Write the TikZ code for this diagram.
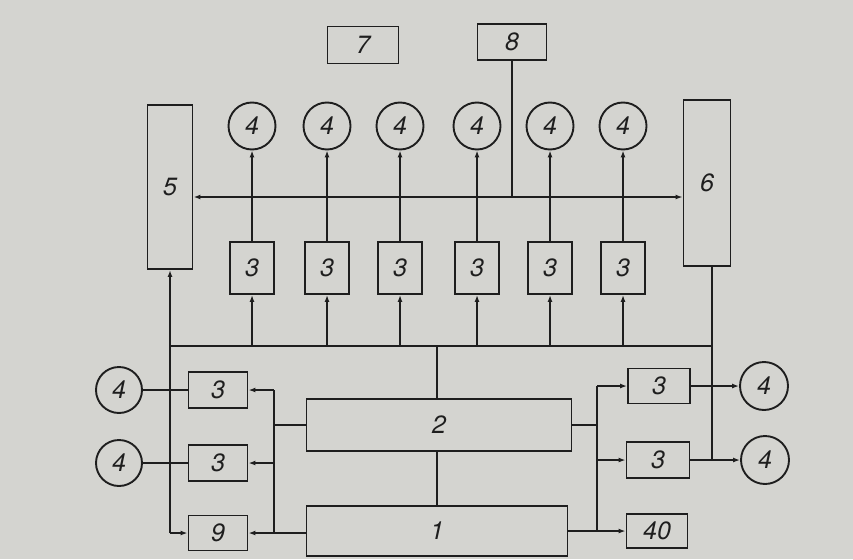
\documentclass[tikz,border=0pt]{standalone}
\usepackage{fontspec}
\setmainfont{TeX Gyre Heros}
\usetikzlibrary{arrows.meta}
\definecolor{paper}{RGB}{212,212,208}
\definecolor{ink}{RGB}{30,30,30}
\tikzset{
  blk/.style={draw=ink, line width=1.9pt, inner sep=0pt, text=ink,
    font=\fontsize{25}{29}\selectfont\itshape},
  rnd/.style={blk, circle, minimum size=47pt},
  wire/.style={draw=ink, line width=1.8pt},
  arr/.style={wire, -{Latex[length=7pt,width=5pt]}},
  darr/.style={wire, {Latex[length=7pt,width=5pt]}-{Latex[length=7pt,width=5pt]}},
}
\begin{document}
\begin{tikzpicture}[x=1pt,y=-1pt]
\fill[paper] (0,0) rectangle (853,559);
\useasboundingbox (0,0) rectangle (853,559);
% top boxes
\node[blk, minimum width=71pt, minimum height=37pt] (b7) at (363,45) {7};
\node[blk, minimum width=69pt, minimum height=36pt] (b8) at (512,42) {8};
\node[blk, minimum width=45pt, minimum height=164pt] (b5) at (170,187) {5};
\node[blk, minimum width=47pt, minimum height=166pt] (b6) at (707,183) {6};
% top circles and boxes 3
\foreach \i/\x in {1/252,2/327,3/400,4/477,5/550,6/623}{
  \node[rnd] (c\i) at (\x,126) {4};
  \node[blk, minimum width=44pt, minimum height=52pt] (t\i) at (\x,268) {3};
}
% main boxes
\node[blk, minimum width=265pt, minimum height=52pt] (b2) at (439,425) {2};
\node[blk, minimum width=261pt, minimum height=50pt] (b1) at (437,531) {1};
% left
\node[rnd, minimum size=46pt] (cl1) at (119,390) {4};
\node[rnd, minimum size=46pt] (cl2) at (119,463) {4};
\node[blk, minimum width=59pt, minimum height=36pt] (l1) at (218,390) {3};
\node[blk, minimum width=59pt, minimum height=36pt] (l2) at (218,463) {3};
\node[blk, minimum width=59pt, minimum height=35pt] (b9) at (218,533) {9};
% right
\node[blk, minimum width=62pt, minimum height=35pt] (r1) at (659,386) {3};
\node[blk, minimum width=63pt, minimum height=36pt] (r2) at (658,460) {3};
\node[blk, minimum width=61pt, minimum height=34pt] (b40) at (657,531) {40};
\node[rnd, minimum size=48pt] (cr1) at (764,386) {4};
\node[rnd, minimum size=48pt] (cr2) at (765,460) {4};
% helper coordinates
\coordinate (busL) at (170,346);
\coordinate (lv) at (274,0);
\coordinate (rv) at (597,0);
\coordinate (s6) at (712,266);
% upper bus between 5 and 6
\draw[darr] (b5.east |- 0,197) -- (b6.west |- 0,197);
\draw[wire] (b8.south) -- (b8.south |- 0,197);
% lower bus
\draw[wire] (busL) -- (s6 |- busL);
\draw[wire] (s6) -- (s6 |- cr2.west);
\draw[wire] (b1.north |- busL) -- (b1.north |- b2.north);
\draw[wire] (b1.north |- b2.south) -- (b1.north);
% top chains
\foreach \i in {1,...,6}{
  \draw[arr] (t\i.south |- busL) -- (t\i.south);
  \draw[arr] (t\i.north) -- (c\i.south);
}
% left side
\draw[arr] (b5.south |- b9.west) -- (b5.south);
\draw[arr] (b5.south |- b9.west) -- (b9.west);
\draw[wire] (cl1.east) -- (l1.west);
\draw[wire] (cl2.east) -- (l2.west);
\draw[wire] (lv |- l1.east) -- (lv |- b9.east);
\draw[wire] (b2.west) -- (lv |- b2.west);
\draw[wire] (b1.west |- b9.east) -- (lv |- b9.east);
\draw[arr] (lv |- l1.east) -- (l1.east);
\draw[arr] (lv |- l2.east) -- (l2.east);
\draw[arr] (lv |- b9.east) -- (b9.east);
% right side
\draw[wire] (rv |- r1.west) -- (rv |- b40.west);
\draw[wire] (b2.east) -- (rv |- b2.east);
\draw[wire] (b1.east |- b40.west) -- (rv |- b40.west);
\draw[arr] (rv |- r1.west) -- (r1.west);
\draw[arr] (rv |- r2.west) -- (r2.west);
\draw[arr] (rv |- b40.west) -- (b40.west);
\draw[arr] (r1.east) -- (cr1.west);
\draw[arr] (r2.east) -- (cr2.west);
\end{tikzpicture}
\end{document}
